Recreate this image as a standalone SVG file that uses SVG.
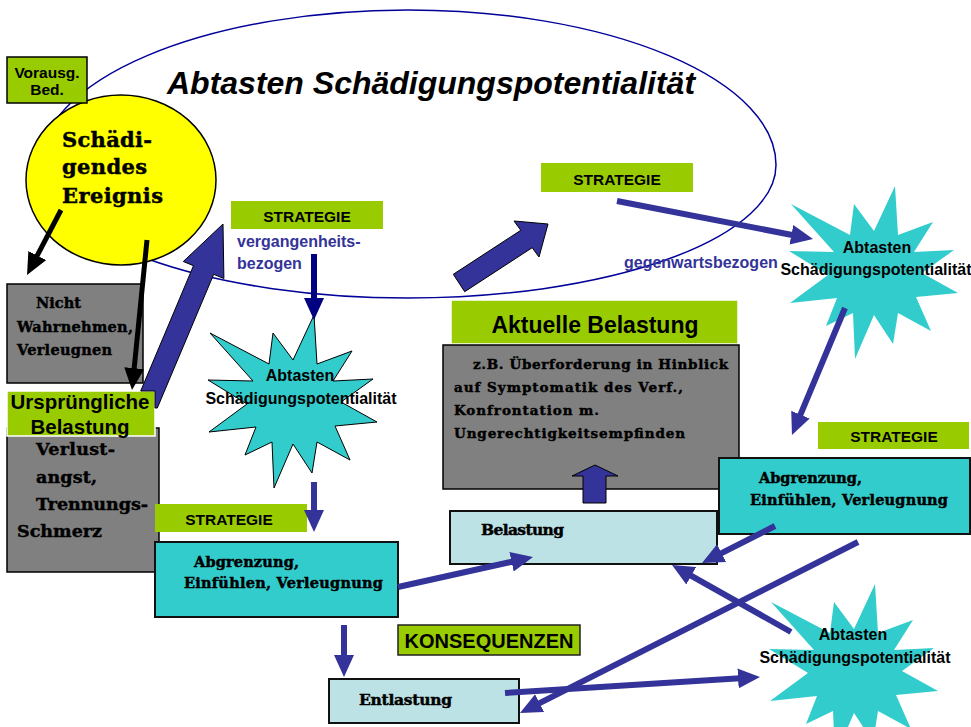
<svg xmlns="http://www.w3.org/2000/svg" width="971" height="727" viewBox="0 0 971 727">
<style>
.sans{font-family:"Liberation Sans",Arial,sans-serif;font-weight:bold;fill:#000}
.serif{font-family:"DejaVu Serif","Liberation Serif",serif;font-weight:bold;fill:#000;stroke:#000;stroke-width:0.45}
.green{fill:#99CC00}
.gray{fill:#808080;stroke:#000;stroke-width:1.5}
.cyan{fill:#33CCCC;stroke:#111;stroke-width:2}
.light{fill:#BCE2E5;stroke:#111;stroke-width:2}
.lbl{font-size:15.5px;text-anchor:middle}
.startxt{font-size:16px;text-anchor:middle}
.bluetxt{fill:#333399}
.ln{fill:none;stroke:#333399;stroke-width:6;marker-end:url(#hb)}
.lk{fill:none;stroke:#000;stroke-width:5;marker-end:url(#hk)}
.block{fill:#333399;stroke:#000;stroke-width:1}
</style>
<defs>
<marker id="hb" viewBox="0 0 22 20" markerWidth="22" markerHeight="20" refX="10" refY="10" orient="auto" markerUnits="userSpaceOnUse"><path d="M0,0 L22,10 L0,20 z" fill="#333399"/></marker>
<marker id="hk" viewBox="0 0 22 20" markerWidth="22" markerHeight="20" refX="10" refY="10" orient="auto" markerUnits="userSpaceOnUse"><path d="M0,0 L22,10 L0,20 z" fill="#000"/></marker>
<marker id="hn" viewBox="0 0 22 20" markerWidth="22" markerHeight="20" refX="10" refY="10" orient="auto" markerUnits="userSpaceOnUse"><path d="M0,0 L22,10 L0,20 z" fill="#000080"/></marker>
<path id="star" d="M21,-87 L24,-38 L59,-51 L40,-21 L80,-23 L48,0 L84,20 L42,24 L57,58 L24,40 L19,71 L0,42 L-19,86 L-21,40 L-48,53 L-37,25 L-84,30 L-46,2 L-85,-22 L-40,-21 L-83,-69 L-24,-38 L-20,-69 L0,-42 Z"/>
</defs>
<rect x="0" y="0" width="971" height="727" fill="#fff"/>

<g id="ellipse">
<path d="M40,165 A368,155 0 0 1 776,165 A368,133 0 0 1 40,165 Z" fill="none" stroke="#000099" stroke-width="1.5"/>
<text class="sans" x="167" y="94" font-size="32" font-style="italic">Abtasten Schädigungspotentialität</text>
</g>

<g id="ereignis">
<ellipse cx="121" cy="180" rx="95" ry="85" fill="#FFFF00" stroke="#000" stroke-width="1.5"/>
<text class="serif" font-size="21" x="62" y="147" textLength="90" lengthAdjust="spacing">Schädi-</text>
<text class="serif" font-size="21" x="62" y="174" textLength="85" lengthAdjust="spacing">gendes</text>
<text class="serif" font-size="21" x="62" y="203" textLength="101" lengthAdjust="spacing">Ereignis</text>
</g>

<g id="vorausg">
<rect x="7" y="57" width="80" height="46" class="green" stroke="#000" stroke-width="1.5"/>
<text class="sans lbl" x="47" y="78">Vorausg.</text>
<text class="sans lbl" x="47" y="95">Bed.</text>
</g>

<g id="nicht">
<rect x="7" y="284" width="136" height="99" class="gray"/>
<text class="serif" font-size="14.5" x="36" y="308" textLength="45" lengthAdjust="spacing">Nicht</text>
<text class="serif" font-size="14.5" x="17" y="332" textLength="116" lengthAdjust="spacing">Wahrnehmen,</text>
<text class="serif" font-size="14.5" x="17" y="355" textLength="95" lengthAdjust="spacing">Verleugnen</text>
</g>

<g id="verlust">
<rect x="7" y="428" width="152" height="144" class="gray"/>
<text class="serif" font-size="17.5" x="36" y="455" textLength="79" lengthAdjust="spacing">Verlust-</text>
<text class="serif" font-size="17.5" x="36" y="483" textLength="61" lengthAdjust="spacing">angst,</text>
<text class="serif" font-size="17.5" x="36" y="510" textLength="112" lengthAdjust="spacing">Trennungs-</text>
<text class="serif" font-size="17.5" x="17" y="537" textLength="85" lengthAdjust="spacing">Schmerz</text>
</g>

<g id="urspruengliche">
<rect x="7" y="391" width="148" height="45" class="green" stroke="#fff" stroke-width="1.5"/>
<text class="sans" font-size="20.5" text-anchor="middle" x="80" y="409">Ursprüngliche</text>
<text class="sans" font-size="20.5" text-anchor="middle" x="80" y="434">Belastung</text>
</g>

<g id="strategie1">
<rect x="231" y="201" width="152" height="28" class="green"/>
<text class="sans lbl" x="307" y="222">STRATEGIE</text>
<text class="sans bluetxt" font-size="16" x="237" y="247">vergangenheits-</text>
<text class="sans bluetxt" font-size="16" x="237" y="269">bezogen</text>
</g>

<g id="star1">
<use href="#star" x="293" y="402" fill="#33CCCC" stroke="#000" stroke-width="1"/>
<text class="sans startxt" x="300" y="381">Abtasten</text>
<text class="sans startxt" x="301" y="404">Schädigungspotentialität</text>
</g>

<g id="strategie2">
<rect x="155" y="504" width="152" height="28" class="green"/>
<text class="sans lbl" x="229" y="525">STRATEGIE</text>
</g>

<g id="abgrenzung1">
<rect x="155" y="542" width="243" height="75" class="cyan"/>
<text class="serif" font-size="14.5" x="194" y="567" textLength="105" lengthAdjust="spacing">Abgrenzung,</text>
<text class="serif" font-size="14.5" x="184" y="588" textLength="199" lengthAdjust="spacing">Einfühlen, Verleugnung</text>
</g>

<g id="aktuelle">
<rect x="451" y="300" width="287" height="44" class="green" stroke="#fff" stroke-width="1.5"/>
<text class="sans" font-size="23" text-anchor="middle" x="595" y="333">Aktuelle Belastung</text>
<rect x="443" y="345" width="296" height="144" class="gray"/>
<text class="serif" font-size="13.5" x="473" y="369" textLength="255" lengthAdjust="spacing">z.B. Überforderung in Hinblick</text>
<text class="serif" font-size="13.5" x="454" y="392" textLength="229" lengthAdjust="spacing">auf Symptomatik des Verf.,</text>
<text class="serif" font-size="13.5" x="454" y="415" textLength="145" lengthAdjust="spacing">Konfrontation m.</text>
<text class="serif" font-size="13.5" x="454" y="438" textLength="231" lengthAdjust="spacing">Ungerechtigkeitsempfinden</text>
</g>

<g id="belastung">
<rect x="450" y="511" width="267" height="53" class="light"/>
<text class="serif" font-size="15.5" x="481" y="535" textLength="83" lengthAdjust="spacing">Belastung</text>
</g>

<g id="strategie3">
<rect x="541" y="163" width="152" height="29" class="green"/>
<text class="sans lbl" x="617" y="185">STRATEGIE</text>
<text class="sans bluetxt" font-size="16" x="624" y="268">gegenwartsbezogen</text>
</g>

<g id="star2">
<use href="#star" x="874" y="273" fill="#33CCCC"/>
<text class="sans startxt" x="877" y="253">Abtasten</text>
<text class="sans startxt" x="876" y="275">Schädigungspotentialität</text>
</g>

<g id="strategie4">
<rect x="818" y="422" width="151" height="27" class="green"/>
<text class="sans lbl" x="894" y="442">STRATEGIE</text>
</g>

<g id="abgrenzung2">
<rect x="719" y="458" width="251" height="76" class="cyan"/>
<text class="serif" font-size="14.5" x="759" y="483" textLength="103" lengthAdjust="spacing">Abgrenzung,</text>
<text class="serif" font-size="14.5" x="750" y="505" textLength="198" lengthAdjust="spacing">Einfühlen, Verleugnung</text>
</g>

<g id="star3">
<use href="#star" x="854" y="671" fill="#33CCCC"/>
<text class="sans startxt" x="853" y="640">Abtasten</text>
<text class="sans startxt" x="855" y="663">Schädigungspotentialität</text>
</g>

<g id="konsequenzen">
<rect x="398" y="625" width="182" height="30" class="green" stroke="#222" stroke-width="1.5"/>
<text class="sans" font-size="20" text-anchor="middle" x="489" y="648">KONSEQUENZEN</text>
</g>

<g id="entlastung">
<rect x="329" y="679" width="190" height="44" class="light"/>
<text class="serif" font-size="15.5" x="359" y="705" textLength="93" lengthAdjust="spacing">Entlastung</text>
</g>

<g id="connectors">
<line class="lk" x1="61" y1="210" x2="32.6" y2="264.4"/>
<line class="lk" x1="147" y1="240" x2="133.2" y2="378.1"/>
<polygon class="block" points="140.7,391 193.5,265.7 183.3,261.5 223,224 223.9,278.5 213.7,274.3 157.3,408 155,408 155,391"/>
<line x1="314" y1="254" x2="314" y2="308" stroke="#000080" stroke-width="6" marker-end="url(#hn)"/>
<polygon class="block" points="453.3,274.3 520.8,230.3 514,221 548,224 539,257 532.2,247.7 464.7,291.7"/>
<line class="ln" x1="617" y1="201" x2="801.2" y2="236.7"/>
<line class="ln" x1="845" y1="308" x2="796.6" y2="423.9"/>
<line class="ln" x1="314" y1="482" x2="314" y2="520"/>
<line class="ln" x1="398" y1="587" x2="521.3" y2="559.6"/>
<line class="ln" x1="344" y1="625" x2="344" y2="665"/>
<polygon class="block" points="583,503 583,476 572,476 595,465 618,476 606,476 606,503"/>
<line class="ln" x1="775" y1="526" x2="712.7" y2="557.6"/>
<line class="ln" x1="858" y1="542" x2="530.7" y2="707.6"/>
<line class="ln" x1="791" y1="632" x2="682.5" y2="570.9"/>
<line class="ln" x1="505" y1="693" x2="748" y2="677.8"/>
</g>
</svg>
